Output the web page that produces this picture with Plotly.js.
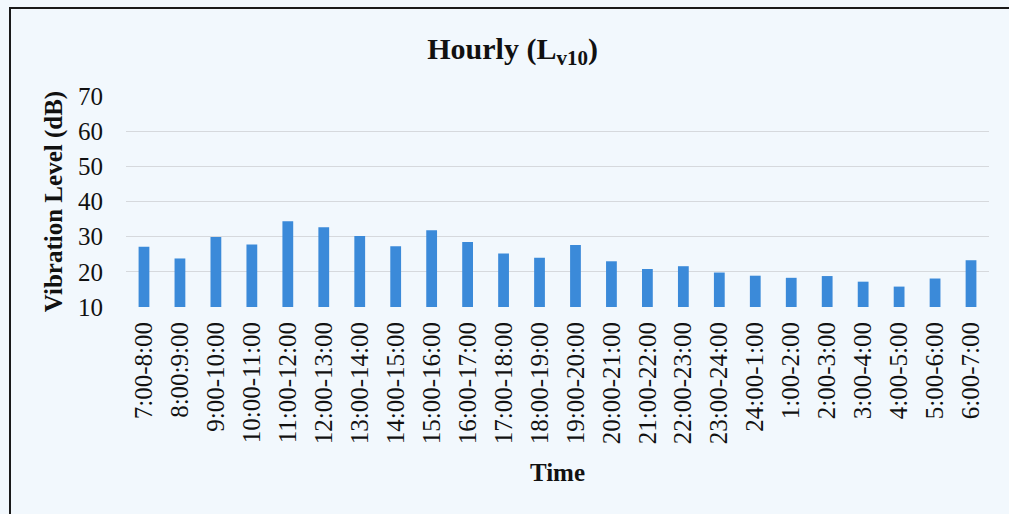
<!DOCTYPE html>
<html>
<head>
<meta charset="utf-8">
<script src="https://cdn.plot.ly/plotly-3.0.1.min.js"></script>
<style>
  html, body { margin: 0; padding: 0; background: #f2f8fd; overflow: hidden; }
  #chart { width: 1009px; height: 514px; }
  #frame { position: absolute; left: 9px; top: 7px; width: 1010px; height: 520px;
           border-top: 2px solid #1a1a1a; border-left: 2px solid #1a1a1a; pointer-events: none; }
</style>
</head>
<body>
<div id="chart"></div>
<div id="frame"></div>
<script>
const categories = ["7:00-8:00","8:00:9:00","9:00-10:00","10:00-11:00","11:00-12:00","12:00-13:00",
  "13:00-14:00","14:00-15:00","15:00-16:00","16:00-17:00","17:00-18:00","18:00-19:00",
  "19:00-20:00","20:00-21:00","21:00-22:00","22:00-23:00","23:00-24:00","24:00-1:00",
  "1:00-2:00","2:00-3:00","3:00-4:00","4:00-5:00","5:00-6:00","6:00-7:00"];
const lv10 = [27.1, 23.8, 29.9, 27.8, 34.4, 32.7, 30.2, 27.3, 31.8, 28.5, 25.2, 24.0,
  27.6, 23.0, 20.8, 21.6, 19.8, 18.9, 18.3, 18.8, 17.2, 15.8, 18.1, 23.3];
const yTicks = [10, 20, 30, 40, 50, 60, 70];

const serif = "Liberation Serif, Times New Roman, serif";

const trace = {
  type: "bar",
  x: categories,
  y: lv10,
  marker: { color: "#3b8ad9" },
  base: 0
};

const layout = {
  width: 1009, height: 514,
  margin: { l: 126, r: 20, t: 96, b: 207 },
  paper_bgcolor: "#f2f8fd",
  plot_bgcolor: "#f2f8fd",
  bargap: 0.7,
  showlegend: false,
  title: {
    text: "<b>Hourly (L<sub>v10</sub>)</b>",
    font: { family: serif, size: 30, color: "#111" },
    x: 0.508, xanchor: "center",
    y: 0.906, yanchor: "middle", yref: "container"
  },
  xaxis: {
    type: "category",
    tickangle: -90,
    tickfont: { family: serif, size: 25, color: "#111" },
    ticks: "",
    ticklabelstandoff: 9,
    showgrid: false,
    showline: false,
    zeroline: false,
    title: { text: "<b>Time</b>", font: { family: serif, size: 25, color: "#111" }, standoff: 20 }
  },
  yaxis: {
    range: [10, 70],
    tickvals: yTicks,
    tickfont: { family: serif, size: 25, color: "#111" },
    ticks: "",
    ticklabelstandoff: 22,
    showgrid: true,
    gridcolor: "#d6d9dd",
    gridwidth: 1,
    showline: false,
    zeroline: false,
    title: { text: "<b>Vibration Level (dB)</b>", font: { family: serif, size: 25, color: "#111" }, standoff: 8 }
  }
};

Plotly.newPlot("chart", [trace], layout, { displayModeBar: false, staticPlot: true });
</script>
</body>
</html>
